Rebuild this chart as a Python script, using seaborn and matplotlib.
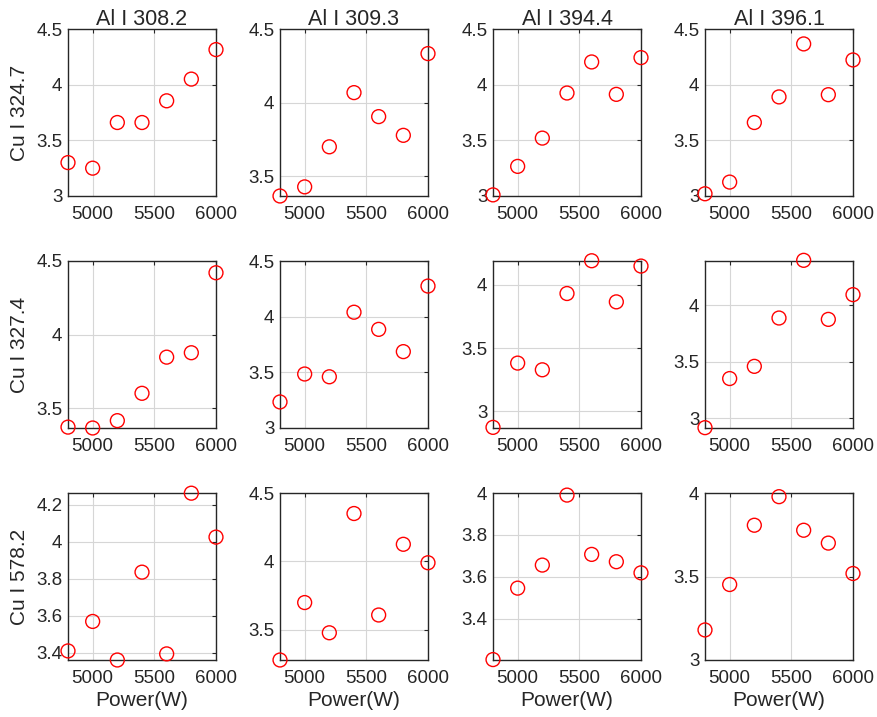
import matplotlib.pyplot as plt
import matplotlib.ticker as mticker
import numpy as np
import pandas as pd
import seaborn as sns

# data
power = [4800, 5000, 5200, 5400, 5600, 5800, 6000]
al_lines = ['Al I 308.2', 'Al I 309.3', 'Al I 394.4', 'Al I 396.1']
cu_lines = ['Cu I 324.7', 'Cu I 327.4', 'Cu I 578.2']

cu_324 = [[3.30, 3.25, 3.66, 3.66, 3.855, 4.05, 4.315],
          [3.366, 3.428, 3.70, 4.068, 3.905, 3.778, 4.333],
          [3.01, 3.266, 3.52, 3.925, 4.204, 3.913, 4.243],
          [3.02, 3.125, 3.66, 3.89, 4.366, 3.91, 4.222]]
cu_327 = [[3.37, 3.364, 3.414, 3.60, 3.846, 3.876, 4.42],
          [3.234, 3.485, 3.46, 4.04, 3.886, 3.686, 4.275],
          [2.873, 3.381, 3.328, 3.931, 4.19, 3.865, 4.148],
          [2.917, 3.352, 3.46, 3.888, 4.399, 3.876, 4.095]]
cu_578 = [[3.411, 3.57, 3.362, 3.836, 3.395, 4.262, 4.025],
          [3.279, 3.699, 3.478, 4.35, 3.608, 4.125, 3.99],
          [3.205, 3.546, 3.656, 3.99, 3.707, 3.672, 3.619],
          [3.18, 3.452, 3.807, 3.978, 3.777, 3.70, 3.518]]

# y limits as shown in the panels
ylims = [[(3, 4.5), (3.366, 4.5), (3, 4.5), (3, 4.5)],
         [(3.364, 4.5), (3, 4.5), (2.868, 4.188), (2.914, 4.393)],
         [(3.362, 4.263), (3.279, 4.5), (3.203, 4.0), (3, 4.0)]]
ysteps = [[0.5, 0.5, 0.5, 0.5],
          [0.5, 0.5, 0.5, 0.5],
          [0.2, 0.5, 0.2, 0.5]]

sns.set_theme(style='white')
plt.rcParams['font.family'] = ['Liberation Sans', 'DejaVu Sans']

W, H = 877, 717
fig = plt.figure(figsize=(W / 100, H / 100), dpi=100)

col_left = [68, 280, 493, 705]
row_top = [29, 261, 493]
aw, ah = 148, 167
tick_fs = 13.5
lab_fs = 15
edge = '#262626'

rows = [cu_324, cu_327, cu_578]
for r, series in enumerate(rows):
    for c in range(4):
        ax = fig.add_axes([col_left[c] / W, 1 - (row_top[r] + ah) / H, aw / W, ah / H])
        df = pd.DataFrame({'power': power, 'val': series[c]})
        sns.scatterplot(data=df, x='power', y='val', ax=ax, marker='o', s=100,
                        facecolors='none', edgecolor='#ff0000', linewidth=1.0,
                        clip_on=False, zorder=5)
        ax.set_xlim(4800, 6000)
        ax.set_ylim(*ylims[r][c])
        ax.set_xticks([5000, 5500, 6000])
        ax.yaxis.set_major_locator(mticker.MultipleLocator(ysteps[r][c]))
        ax.yaxis.set_major_formatter(mticker.FormatStrFormatter('%g'))
        ax.grid(True, color='#d6d6d6', linewidth=0.8)
        ax.set_axisbelow(True)
        for s in ax.spines.values():
            s.set_color(edge)
            s.set_linewidth(1.0)
            s.set_visible(True)
        ax.tick_params(direction='in', length=3, width=0.8, color=edge,
                       top=True, right=True, labelsize=tick_fs, labelcolor=edge)
        ax.tick_params(axis='x', pad=7)
        ax.tick_params(axis='y', pad=4)
        ax.set_xlabel('')
        ax.set_ylabel('')
        if r == 0:
            ax.set_title(al_lines[c], fontsize=15.5, color=edge, pad=3)
        if r == 2:
            ax.set_xlabel('Power(W)', fontsize=lab_fs, color=edge, labelpad=3)
        if c == 0:
            ax.set_ylabel(cu_lines[r], fontsize=lab_fs, color=edge, labelpad=5)

fig.savefig('out.png', dpi=100, facecolor='white')
